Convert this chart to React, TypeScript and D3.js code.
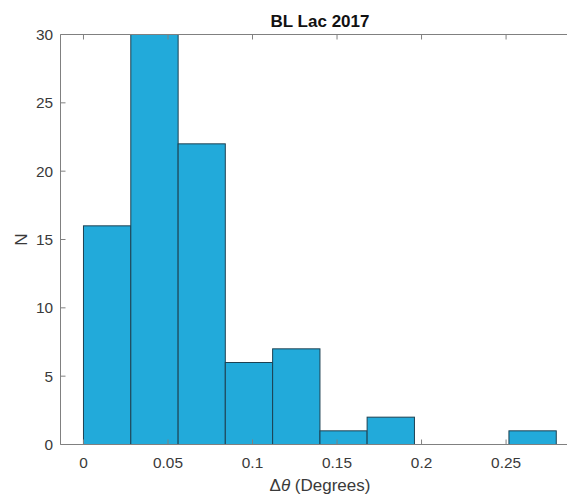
import React from "react";
import * as d3 from "d3";

const binEdges = [0, 0.028, 0.056, 0.0839, 0.1119, 0.1399, 0.1678, 0.1958, 0.2238, 0.2517, 0.2797];
const counts = [16, 30, 22, 6, 7, 1, 2, 0, 0, 1];
const xTicks = [0, 0.05, 0.1, 0.15, 0.2, 0.25];
const xTickLabels = ["0", "0.05", "0.1", "0.15", "0.2", "0.25"];
const yTicks = [0, 5, 10, 15, 20, 25, 30];
const title = "BL Lac 2017";

const W = 567;
const H = 496;
const left = 60.5;
const right = 580;
const top = 34.5;
const bottom = 444.5;

export default function App() {
  const x = d3.scaleLinear().domain([-0.01359, 0.29374]).range([left, right]);
  const y = d3.scaleLinear().domain([0, 30]).range([bottom, top]);
  const font = "'Liberation Sans', Arial, Helvetica, sans-serif";
  const axisColor = "#808080";
  const textColor = "#3a3a3a";
  const bins = counts.map((c, i) => ({ x0: binEdges[i], x1: binEdges[i + 1], c }));

  return (
    <svg
      width={W}
      height={H}
      style={{ position: "absolute", left: 0, top: 0, background: "#fff" }}
      fontFamily={font}
    >
      <rect x={0} y={0} width={W} height={H} fill="#fff" />
      {bins
        .filter((b) => b.c > 0)
        .map((b, i) => (
          <rect
            key={i}
            x={x(b.x0)}
            y={y(b.c)}
            width={x(b.x1) - x(b.x0)}
            height={y(0) - y(b.c)}
            fill="#22AADA"
            stroke="#1d4152"
            strokeWidth={1}
          />
        ))}
      {/* axes lines */}
      <line x1={left} x2={right} y1={bottom} y2={bottom} stroke={axisColor} strokeWidth={1} />
      <line x1={left} x2={right} y1={top} y2={top} stroke={axisColor} strokeWidth={1} />
      <line x1={left} x2={left} y1={top} y2={bottom} stroke={axisColor} strokeWidth={1} />
      {xTicks.map((t, i) => (
        <g key={"xt" + i}>
          <line x1={x(t)} x2={x(t)} y1={bottom} y2={bottom - 5} stroke={axisColor} />
          <line x1={x(t)} x2={x(t)} y1={top} y2={top + 5} stroke={axisColor} />
          <text x={x(t)} y={468} textAnchor="middle" fontSize={15.4} fill={textColor}>
            {xTickLabels[i]}
          </text>
        </g>
      ))}
      {yTicks.map((t, i) => (
        <g key={"yt" + i}>
          <line x1={left} x2={left + 5} y1={y(t)} y2={y(t)} stroke={axisColor} />
          <text x={53} y={y(t) + 5.5} textAnchor="end" fontSize={15.4} fill={textColor}>
            {t}
          </text>
        </g>
      ))}
      <text x={320} y={27} textAnchor="middle" fontSize={17} fontWeight="bold" fill="#111">
        {title}
      </text>
      <text x={320} y={491} textAnchor="middle" fontSize={17} fill={textColor}>
        {"Δ"}
        <tspan fontStyle="italic">{"θ"}</tspan>
        {" (Degrees)"}
      </text>
      <text
        transform={`translate(27,${(top + bottom) / 2}) rotate(-90)`}
        textAnchor="middle"
        fontSize={17}
        fill={textColor}
      >
        N
      </text>
    </svg>
  );
}
